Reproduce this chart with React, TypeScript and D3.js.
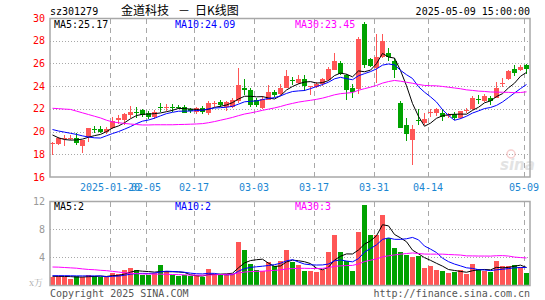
import * as d3 from "d3";

// trading days shown, 2025-01-06 .. 2025-05-09
const dates = [
  "2025-01-06", "2025-01-07", "2025-01-08", "2025-01-09", "2025-01-10", "2025-01-13", "2025-01-14", "2025-01-15",
  "2025-01-16", "2025-01-17", "2025-01-20", "2025-01-21", "2025-01-22", "2025-01-23", "2025-01-24", "2025-01-27",
  "2025-02-05", "2025-02-06", "2025-02-07", "2025-02-10", "2025-02-11", "2025-02-12", "2025-02-13", "2025-02-14",
  "2025-02-17", "2025-02-18", "2025-02-19", "2025-02-20", "2025-02-21", "2025-02-24", "2025-02-25", "2025-02-26",
  "2025-02-27", "2025-02-28", "2025-03-03", "2025-03-04", "2025-03-05", "2025-03-06", "2025-03-07", "2025-03-10",
  "2025-03-11", "2025-03-12", "2025-03-13", "2025-03-14", "2025-03-17", "2025-03-18", "2025-03-19", "2025-03-20",
  "2025-03-21", "2025-03-24", "2025-03-25", "2025-03-26", "2025-03-27", "2025-03-28", "2025-03-31", "2025-04-01",
  "2025-04-02", "2025-04-03", "2025-04-07", "2025-04-08", "2025-04-09", "2025-04-10", "2025-04-11", "2025-04-14",
  "2025-04-15", "2025-04-16", "2025-04-17", "2025-04-18", "2025-04-21", "2025-04-22", "2025-04-23", "2025-04-24",
  "2025-04-25", "2025-04-28", "2025-04-29", "2025-04-30", "2025-05-06", "2025-05-07", "2025-05-08", "2025-05-09",
];

const open = [
  18.9, 18.93, 19.35, 19.4, 19.46, 18.75, 19.55, 20.25, 20.22, 20.0,
  20.35, 21.0, 21.0, 21.5, 21.75, 21.9, 21.65, 21.3, 22.2, 22.1,
  22.2, 22.2, 22.15, 21.95, 21.7, 22.05, 21.65, 22.45, 22.6, 22.2,
  22.15, 22.7, 23.85, 23.65, 22.8, 22.05, 22.8, 23.5, 23.3, 23.85,
  24.55, 24.3, 24.6, 23.95, 23.95, 24.15, 24.5, 25.45, 26.05, 24.95,
  23.85, 23.75, 29.5, 26.35, 25.6, 26.55, 26.95, 26.2, 22.5, 20.55,
  19.3, 21.0, 20.75, 21.6, 21.6, 21.65, 21.35, 21.55, 21.2, 21.85,
  21.95, 22.9, 22.65, 23.0, 23.0, 24.25, 24.6, 25.55, 25.45, 25.85,
];
const high = [
  19.05, 19.5, 19.7, 19.7, 19.85, 19.3, 20.35, 20.5, 20.45, 20.4,
  21.3, 21.5, 21.6, 22.25, 22.15, 22.0, 21.8, 21.9, 22.55, 22.4,
  22.45, 22.35, 22.35, 22.1, 22.2, 22.25, 22.65, 22.7, 22.75, 22.7,
  22.95, 25.6, 24.6, 23.85, 23.0, 23.1, 24.1, 23.7, 24.2, 25.45,
  24.8, 24.95, 24.95, 24.05, 24.4, 24.75, 25.7, 26.9, 26.2, 25.1,
  24.15, 28.3, 29.65, 26.5, 28.6, 28.6, 27.4, 26.5, 22.65, 21.2,
  20.6, 21.95, 21.6, 21.95, 22.1, 21.95, 21.6, 21.75, 21.85, 22.05,
  23.15, 23.2, 23.3, 23.15, 24.4, 24.7, 25.45, 25.85, 25.85, 25.95,
];
const low = [
  17.9, 18.8, 18.7, 19.3, 18.85, 18.1, 19.1, 19.9, 19.85, 19.8,
  20.2, 20.65, 20.6, 21.2, 21.2, 21.3, 21.1, 21.1, 21.75, 21.85,
  21.75, 21.95, 21.6, 21.6, 21.55, 21.55, 21.5, 22.2, 22.2, 21.8,
  22.1, 22.5, 23.2, 22.2, 22.2, 22.0, 22.75, 23.05, 23.2, 23.8,
  24.1, 24.2, 23.6, 23.2, 23.85, 24.05, 24.45, 25.4, 25.0, 22.8,
  22.95, 23.3, 25.6, 25.7, 24.3, 26.5, 26.2, 24.7, 20.3, 19.2,
  17.05, 20.6, 20.6, 21.3, 21.4, 20.9, 21.2, 21.0, 21.1, 21.6,
  21.9, 22.45, 22.6, 22.35, 22.95, 23.9, 24.5, 24.9, 25.35, 25.1,
];
const close = [
  18.95, 19.46, 19.45, 19.45, 19.02, 19.3, 20.3, 20.15, 19.98, 20.25,
  20.9, 21.2, 21.55, 21.75, 21.65, 21.45, 21.3, 21.75, 22.05, 22.2,
  22.05, 22.15, 21.65, 21.85, 22.05, 21.75, 22.5, 22.5, 22.35, 22.6,
  22.8, 24.1, 23.7, 22.35, 22.35, 22.9, 23.5, 23.25, 23.8, 24.85,
  24.45, 24.65, 24.05, 24.0, 24.2, 24.65, 25.55, 26.25, 25.1, 23.7,
  23.5, 28.15, 25.9, 25.8, 26.55, 28.0, 26.55, 25.45, 20.35, 19.8,
  20.2, 20.9, 21.1, 21.7, 21.95, 21.3, 21.45, 21.2, 21.8, 21.9,
  23.0, 22.8, 23.15, 22.65, 23.8, 24.3, 25.35, 25.2, 25.7, 25.5,
];
// volume, 万手
const volume = [
  1.1, 1.24, 1.1, 0.9, 1.33, 1.14, 1.48, 1.24, 1.14, 1.1,
  1.76, 1.62, 2.19, 2.48, 2.19, 1.38, 1.38, 1.76, 2.9, 2.05,
  1.38, 1.24, 1.38, 1.24, 1.38, 1.1, 2.33, 1.57, 1.38, 1.57,
  1.57, 6.2, 5.05, 3.05, 2.19, 1.95, 3.33, 2.76, 3.38, 5.05,
  3.24, 2.9, 2.05, 2.05, 1.81, 2.1, 4.67, 7.19, 4.76, 3.48,
  2.05, 7.52, 11.38, 7.1, 7.1, 9.95, 6.71, 5.24, 4.67, 4.33,
  3.95, 4.1, 2.48, 2.76, 2.19, 1.95, 1.67, 1.81, 2.1, 1.57,
  3.05, 2.33, 2.05, 1.81, 3.38, 2.67, 2.67, 2.9, 2.57, 1.67,
];

// MA values for the first bars (their windows start before the chart)
const ma5Head = [19.7, 19.45, 19.3, 19.25];
const ma10Head = [20.18, 20.05, 19.95, 19.85, 19.75, 19.62, 19.52, 19.45, 19.43];
const ma30Head = [
  22.05, 22.02, 21.98, 21.95, 21.8, 21.65, 21.5, 21.35, 21.2, 21.0,
  20.85, 20.78, 20.72, 20.66, 20.62, 20.58, 20.58, 20.6, 20.6, 20.6,
  20.6, 20.62, 20.63, 20.65, 20.67, 20.7, 20.78, 20.88, 21.0,
];
const vma5Head = [1.24, 1.24, 1.22, 1.2];
const vma10Head = [1.33, 1.33, 1.33, 1.32, 1.3, 1.3, 1.3, 1.3, 1.3];
const vma30Head = [
  2.57, 2.55, 2.5, 2.45, 2.4, 2.3, 2.22, 2.18, 2.1, 2.05,
  1.95, 1.85, 1.75, 1.68, 1.62, 1.58, 1.57, 1.56, 1.55, 1.53,
  1.5, 1.48, 1.45, 1.42, 1.4, 1.4, 1.42, 1.45, 1.5,
];

const tickDates = ["2025-01-20", "2025-02-05", "2025-02-17", "2025-03-03", "2025-03-17", "2025-03-31", "2025-04-14", "2025-05-09"];
const tickLabels = ["2025-01-20", "02-05", "02-17", "03-03", "03-17", "03-31", "04-14", "05-09"];
const priceTicks = [30, 28, 26, 24, 22, 20, 18, 16];
const volTicks = [12, 8, 4];

const UP = "#ff5656";
const DOWN = "#00a200";
const GRID = "#a8a8a8";
const MONO = "'DejaVu Sans Mono', monospace";
const CJK = "'Noto Sans CJK SC', sans-serif";

function movingAvg(vals: number[], n: number, head: number[]) {
  return vals.map((_, i) => (i < head.length ? head[i] : (d3.mean(vals.slice(i - n + 1, i + 1)) as number)));
}

export default function App() {
  const left = 50;
  const right = 530;
  const x = d3.scaleLinear().domain([0, dates.length]).range([left, right]);
  const y = d3.scaleLinear().domain([16, 30]).range([177, 18]);
  const vy = d3.scaleLinear().domain([0, 12]).range([285, 201]);
  const bw = 5;

  const line = (scale: d3.ScaleLinear<number, number>) =>
    d3
      .line<number>()
      .x((_, i) => x(i) + 2.5)
      .y((d) => scale(d));

  const priceMAs = [
    { vals: movingAvg(close, 5, ma5Head), color: "#000000" },
    { vals: movingAvg(close, 10, ma10Head), color: "#0000ff" },
    { vals: movingAvg(close, 30, ma30Head), color: "#ff00ff" },
  ];
  const volMAs = [
    { vals: movingAvg(volume, 5, vma5Head), color: "#000000" },
    { vals: movingAvg(volume, 10, vma10Head), color: "#0000ff" },
    { vals: movingAvg(volume, 30, vma30Head), color: "#ff00ff" },
  ];

  const tickIdx = tickDates.map((d) => dates.indexOf(d));

  return (
    <svg
      width={545}
      height={300}
      style={{ position: "absolute", left: 0, top: 0, background: "#fff" }}
      fontFamily={MONO}
    >
      {/* header */}
      <text x={50} y={14.5} fontSize={10} fill="#000">sz301279</text>
      <text x={121} y={15} fontSize={12} fontFamily={CJK} fill="#000">金道科技</text>
      <text x={178} y={15} fontSize={12} fontFamily={CJK} fill="#000">－</text>
      <text x={195} y={15} fontSize={12} fontFamily={CJK} fill="#000">日K线图</text>
      <text x={530} y={14.5} fontSize={10} textAnchor="end" fill="#000">2025-05-09 15:00:00</text>

      {/* grids */}
      <g shapeRendering="crispEdges">
        {priceTicks.slice(1, -1).map((t) => (
          <line key={t} x1={left} x2={right} y1={Math.round(y(t)) + 0.5} y2={Math.round(y(t)) + 0.5}
            stroke={GRID} strokeDasharray="1,2" />
        ))}
        {tickIdx.map((i) => (
          <line key={i} x1={x(i) + 0.5} x2={x(i) + 0.5} y1={19} y2={177} stroke={GRID} strokeDasharray="5,4" />
        ))}
        {volTicks.slice(1).map((t) => (
          <line key={t} x1={left} x2={right} y1={Math.round(vy(t)) + 0.5} y2={Math.round(vy(t)) + 0.5}
            stroke={GRID} strokeDasharray="1,2" />
        ))}
        {tickIdx.map((i) => (
          <line key={"v" + i} x1={x(i) + 0.5} x2={x(i) + 0.5} y1={202} y2={285} stroke={GRID} strokeDasharray="5,4" />
        ))}
      </g>

      {/* axis labels */}
      {priceTicks.map((t) => (
        <text key={t} x={45} y={y(t) + 3.5} fontSize={10} textAnchor="end" fill="#ff0000">{t}</text>
      ))}
      {tickIdx.map((i, k) => (
        <text key={i} x={x(i)} y={191} fontSize={10} textAnchor="middle" fill="#1a86d2">{tickLabels[k]}</text>
      ))}
      {volTicks.map((t) => (
        <text key={t} x={45} y={vy(t) + 3.5} fontSize={10} textAnchor="end" fill="#999">{t}</text>
      ))}
      <text x={43} y={286} fontSize={9} textAnchor="end" fill="#aaa" fontFamily="'Noto Serif CJK SC', 'Noto Sans CJK SC', serif">x万</text>

      {/* watermark */}
      <g opacity={0.5}>
        <circle cx={511} cy={154} r={4} fill="none" stroke="#f0a0a0" strokeWidth={1.5} />
        <text x={500} y={170} fontSize={15} fontWeight="bold" fontStyle="italic" fill="#c8c8c8"
          fontFamily="'DejaVu Sans', sans-serif">sina</text>
      </g>

      {/* candles */}
      <g shapeRendering="crispEdges">
        {dates.map((d, i) => {
          const o = open[i];
          const c = close[i];
          const col = c >= o ? UP : DOWN;
          const top = Math.round(y(Math.max(o, c)));
          const bot = Math.round(y(Math.min(o, c)));
          return (
            <g key={d}>
              <line x1={x(i) + 2.5} x2={x(i) + 2.5} y1={y(high[i])} y2={y(low[i])} stroke={col} />
              <rect x={x(i)} y={top} width={bw} height={Math.max(1, bot - top)} fill={col} />
            </g>
          );
        })}
      </g>
      {priceMAs.map((m) => (
        <path key={m.color} d={line(y)(m.vals) ?? ""} fill="none" stroke={m.color} strokeWidth={1} />
      ))}

      {/* volume bars */}
      <g shapeRendering="crispEdges">
        {dates.map((d, i) => (
          <rect key={d} x={x(i)} y={vy(volume[i])} width={bw} height={vy(0) - vy(volume[i])}
            fill={close[i] >= open[i] ? UP : DOWN} />
        ))}
      </g>
      {volMAs.map((m) => (
        <path key={m.color} d={line(vy)(m.vals) ?? ""} fill="none" stroke={m.color} strokeWidth={1} />
      ))}

      {/* panel frames */}
      <rect x={left} y={18.5} width={right - left} height={177 - 18.5} fill="none" stroke={GRID} strokeWidth={1.5} />
      <rect x={left} y={201.5} width={right - left} height={285.5 - 201.5} fill="none" stroke={GRID} strokeWidth={1.5} />

      {/* MA legends */}
      <text x={54} y={28} fontSize={10} fill="#000">MA5:25.17</text>
      <text x={175} y={28} fontSize={10} fill="#0000ff">MA10:24.09</text>
      <text x={295} y={28} fontSize={10} fill="#ff00ff">MA30:23.45</text>
      <text x={54} y={210} fontSize={10} fill="#000">MA5:2</text>
      <text x={175} y={210} fontSize={10} fill="#0000ff">MA10:2</text>
      <text x={295} y={210} fontSize={10} fill="#ff00ff">MA30:3</text>

      {/* footer */}
      <text x={50} y={297} fontSize={10} fill="#555">Copyright 2025 SINA.COM</text>
      <text x={530} y={297} fontSize={10} textAnchor="end" fill="#555">http://finance.sina.com.cn</text>
    </svg>
  );
}
